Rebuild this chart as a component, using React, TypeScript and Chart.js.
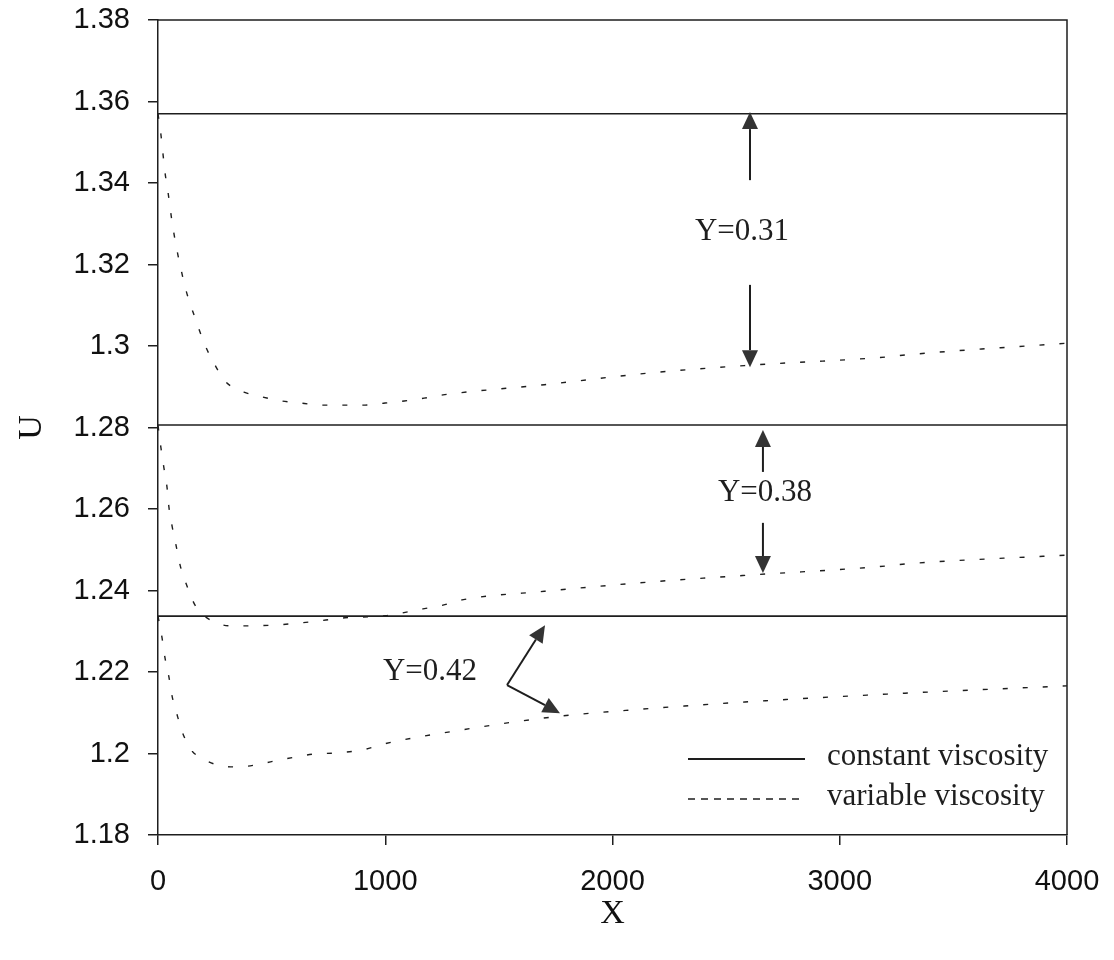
import React, { useEffect, useRef } from 'react';
import { Chart, registerables } from 'chart.js';

Chart.register(...registerables);

// ---- data ----
const xTicks = [0, 1000, 2000, 3000, 4000];
const xTickLabels = ['0', '1000', '2000', '3000', '4000'];
const yTicks = [1.18, 1.2, 1.22, 1.24, 1.26, 1.28, 1.3, 1.32, 1.34, 1.36, 1.38];
const yTickLabels = ['1.18', '1.2', '1.22', '1.24', '1.26', '1.28', '1.3', '1.32', '1.34', '1.36', '1.38'];

const xRange = [0, 4000];
// constant viscosity levels (Y = 0.31, 0.38, 0.42)
const constantLevels = [1.357, 1.2806, 1.2337];

// variable viscosity, Y = 0.31
const var31X = [0, 13, 22, 31, 44, 62, 79, 97, 123, 163, 207, 251, 295, 378, 458, 546, 629, 722, 823, 911, 999, 1083, 1171, 1254, 1700, 2167, 2608, 3203, 3287, 4000];
const var31U = [1.357, 1.3518, 1.3471, 1.3425, 1.3378, 1.3304, 1.3248, 1.3199, 1.3137, 1.3069, 1.3002, 1.2953, 1.2914, 1.2887, 1.2875, 1.2865, 1.286, 1.2855, 1.2855, 1.2855, 1.286, 1.2865, 1.2872, 1.288, 1.2905, 1.2934, 1.2953, 1.2973, 1.2978, 1.3007];

// variable viscosity, Y = 0.38
const var38X = [0, 13, 26, 40, 48, 62, 79, 97, 123, 163, 229, 330, 506, 673, 823, 999, 1166, 1254, 1338, 1700, 2167, 2608, 3203, 3287, 4000];
const var38U = [1.2805, 1.275, 1.2701, 1.2652, 1.2605, 1.2558, 1.2512, 1.2463, 1.2418, 1.2364, 1.2328, 1.2313, 1.2315, 1.2323, 1.2333, 1.2338, 1.2355, 1.2364, 1.2377, 1.2398, 1.2421, 1.2438, 1.246, 1.2465, 1.2487];

// variable viscosity, Y = 0.42
const var42X = [0, 18, 31, 48, 62, 84, 110, 150, 185, 260, 348, 431, 515, 603, 691, 774, 902, 990, 1338, 1743, 2086, 2600, 3287, 4000];
const var42U = [1.2337, 1.2283, 1.2234, 1.2188, 1.2141, 1.2095, 1.2048, 1.2006, 1.1991, 1.1972, 1.1967, 1.1972, 1.1982, 1.1991, 1.1999, 1.2001, 1.2009, 1.2023, 1.2058, 1.209, 1.2107, 1.2127, 1.2148, 1.2166];

const legendLabels = ['constant viscosity', 'variable viscosity'];

// annotation labels (data coordinates)
const annotationTexts = ['Y=0.31', 'Y=0.38', 'Y=0.42'];
const annotationX = [2570, 2671, 1197];
const annotationU = [1.328, 1.2639, 1.22];

// arrows: tail -> tip (data coordinates)
const arrowTailX = [2605, 2605, 2662, 2662, 1536, 1536];
const arrowTailU = [1.3407, 1.315, 1.2691, 1.2566, 1.2168, 1.2168];
const arrowTipX = [2605, 2605, 2662, 2662, 1703, 1769];
const arrowTipU = [1.3574, 1.2948, 1.2794, 1.2443, 1.2315, 1.2099];

const INK = '#1e1e1e';
const SERIF = "'Liberation Serif', 'Times New Roman', serif";
const SANS = "'Liberation Sans', Arial, sans-serif";

function zip(xs: number[], ys: number[]) {
  return xs.map((x, i) => ({ x, y: ys[i] }));
}

const framePlugin = {
  id: 'frame',
  afterDatasetsDraw(chart: any) {
    const { ctx, chartArea: a } = chart;
    ctx.save();
    ctx.strokeStyle = INK;
    ctx.lineWidth = 1.5;
    ctx.beginPath();
    ctx.moveTo(a.left, a.top);
    ctx.lineTo(a.right, a.top);
    ctx.lineTo(a.right, a.bottom);
    ctx.stroke();
    ctx.restore();
  },
};

const annotationPlugin = {
  id: 'annotations',
  afterDatasetsDraw(chart: any) {
    const { ctx } = chart;
    const xs = chart.scales.x;
    const ys = chart.scales.y;
    ctx.save();
    ctx.fillStyle = INK;
    ctx.font = `31px ${SERIF}`;
    ctx.textAlign = 'center';
    ctx.textBaseline = 'middle';
    annotationTexts.forEach((t, i) => {
      ctx.fillText(t, xs.getPixelForValue(annotationX[i]), ys.getPixelForValue(annotationU[i]));
    });
    ctx.strokeStyle = INK;
    ctx.fillStyle = '#333';
    ctx.lineWidth = 2;
    for (let i = 0; i < arrowTailX.length; i++) {
      const x0 = xs.getPixelForValue(arrowTailX[i]);
      const y0 = ys.getPixelForValue(arrowTailU[i]);
      const x1 = xs.getPixelForValue(arrowTipX[i]);
      const y1 = ys.getPixelForValue(arrowTipU[i]);
      const ang = Math.atan2(y1 - y0, x1 - x0);
      const hl = 17;
      const hw = 8;
      const bx = x1 - hl * Math.cos(ang);
      const by = y1 - hl * Math.sin(ang);
      ctx.beginPath();
      ctx.moveTo(x0, y0);
      ctx.lineTo(bx, by);
      ctx.stroke();
      ctx.beginPath();
      ctx.moveTo(x1, y1);
      ctx.lineTo(bx + hw * Math.sin(ang), by - hw * Math.cos(ang));
      ctx.lineTo(bx - hw * Math.sin(ang), by + hw * Math.cos(ang));
      ctx.closePath();
      ctx.fill();
    }
    ctx.restore();
  },
};

const legendPlugin = {
  id: 'innerLegend',
  afterDatasetsDraw(chart: any) {
    const { ctx, chartArea: a } = chart;
    const rows = [a.bottom - 76, a.bottom - 36];
    ctx.save();
    legendLabels.forEach((label, i) => {
      const y = rows[i];
      ctx.strokeStyle = INK;
      ctx.lineWidth = i === 0 ? 1.8 : 1.6;
      ctx.setLineDash(i === 0 ? [] : [7, 6]);
      ctx.beginPath();
      ctx.moveTo(a.right - 379, y);
      ctx.lineTo(a.right - 262, y);
      ctx.stroke();
      ctx.setLineDash([]);
      ctx.fillStyle = INK;
      ctx.font = `31px ${SERIF}`;
      ctx.textAlign = 'left';
      ctx.textBaseline = 'middle';
      ctx.fillText(label, a.right - 240, y - 2);
    });
    ctx.restore();
  },
};

export default function App() {
  const ref = useRef<HTMLCanvasElement | null>(null);

  useEffect(() => {
    document.body.style.margin = '0';
    const canvas = ref.current;
    if (!canvas) return;

    const solid = constantLevels.map((u) => ({
      label: 'constant viscosity',
      data: zip(xRange, [u, u]),
      borderColor: INK,
      borderWidth: 1.6,
      pointRadius: 0,
      fill: false,
    }));
    const dashed = [
      zip(var31X, var31U),
      zip(var38X, var38U),
      zip(var42X, var42U),
    ].map((d) => ({
      label: 'variable viscosity',
      data: d,
      borderColor: INK,
      borderWidth: 1.4,
      borderDash: [5, 15],
      pointRadius: 0,
      fill: false,
      cubicInterpolationMode: 'monotone' as const,
    }));

    const chart = new Chart(canvas, {
      type: 'line',
      data: { datasets: [...solid, ...dashed] as any },
      options: {
        responsive: false,
        animation: false,
        layout: { padding: { top: 20, right: 47, left: 0, bottom: 0 } },
        plugins: {
          legend: { display: false },
          tooltip: { enabled: false },
        },
        scales: {
          x: {
            type: 'linear',
            min: 0,
            max: 4000,
            afterBuildTicks: (s: any) => {
              s.ticks = xTicks.map((v) => ({ value: v }));
            },
            afterFit: (s: any) => {
              s.height = 125;
              s.paddingLeft = 0;
              s.paddingRight = 0;
            },
            ticks: {
              callback: (_v: any, i: number) => xTickLabels[i],
              font: { family: SANS, size: 29 },
              color: '#111',
              padding: 20,
              maxRotation: 0,
              autoSkip: false,
            },
            grid: { drawOnChartArea: false, drawTicks: true, tickLength: 10, color: INK, lineWidth: 1.5 },
            border: { display: true, color: INK, width: 1.5 },
            title: {
              display: true,
              text: 'X',
              font: { family: SERIF, size: 34 },
              color: '#111',
              padding: { top: 0, bottom: 26 },
            },
          },
          y: {
            type: 'linear',
            min: 1.18,
            max: 1.38,
            afterBuildTicks: (s: any) => {
              s.ticks = yTicks.map((v) => ({ value: v }));
            },
            afterFit: (s: any) => {
              s.width = 158;
              s.paddingTop = 0;
              s.paddingBottom = 0;
            },
            ticks: {
              callback: (_v: any, i: number) => yTickLabels[i],
              font: { family: SANS, size: 29 },
              color: '#111',
              padding: 18,
              autoSkip: false,
            },
            grid: { drawOnChartArea: false, drawTicks: true, tickLength: 10, color: INK, lineWidth: 1.5 },
            border: { display: true, color: INK, width: 1.5 },
            title: {
              display: true,
              text: 'U',
              font: { family: SERIF, size: 34 },
              color: '#111',
              padding: { top: 12, bottom: 0 },
            },
          },
        },
      },
      plugins: [framePlugin, annotationPlugin, legendPlugin],
    });

    return () => chart.destroy();
  }, []);

  return <canvas ref={ref} width={1114} height={960} style={{ display: 'block', width: 1114, height: 960 }} />;
}
